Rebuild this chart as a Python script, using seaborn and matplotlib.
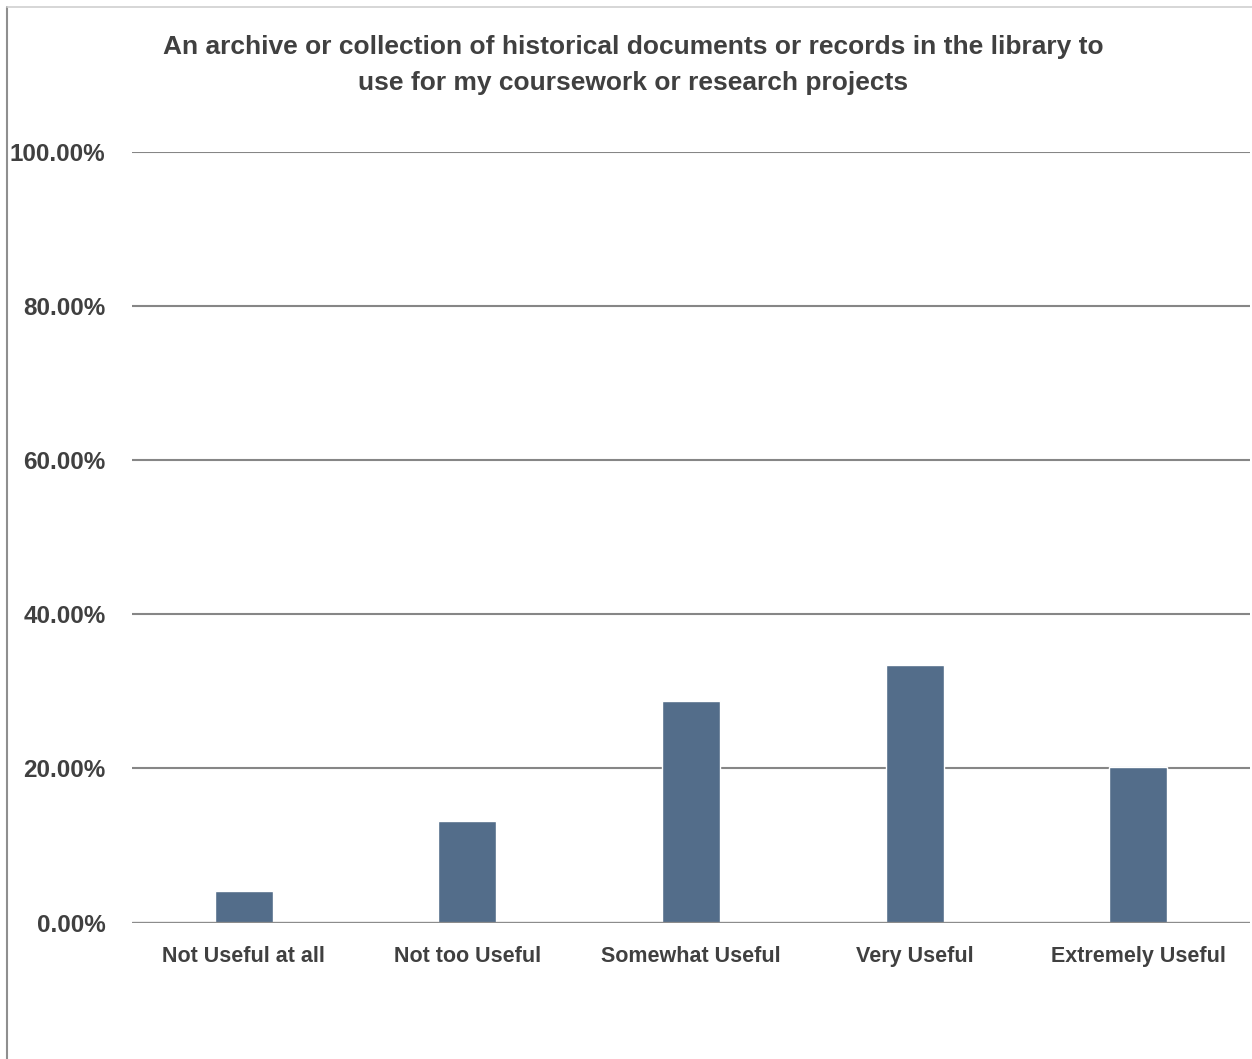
import matplotlib
matplotlib.use("Agg")
import matplotlib.pyplot as plt
from matplotlib.lines import Line2D
from matplotlib.ticker import FuncFormatter
import pandas as pd
import seaborn as sns

# survey answers, share of respondents in %
categories = ['Not Useful at all', 'Not too Useful', 'Somewhat Useful', 'Very Useful', 'Extremely Useful']
shares = [4.1, 13.2, 28.7, 33.4, 20.2]
y_ticks = [0, 20, 40, 60, 80, 100]
title = ('An archive or collection of historical documents or records in the library to\n'
         'use for my coursework or research projects')

df = pd.DataFrame({'category': categories, 'share': shares})

sns.set_style('white')
plt.rcParams['font.family'] = ['Liberation Sans Narrow', 'Liberation Sans', 'DejaVu Sans']
text_color = '#404040'
grid_color = '#868686'

fig = plt.figure(figsize=(12.52, 10.59), dpi=100)
ax = fig.add_axes([132 / 1252, 136.5 / 1059, 1118 / 1252, 770.5 / 1059])

sns.barplot(data=df, x='category', y='share', color='#536d8a', width=0.26,
            saturation=1, ax=ax, zorder=3)

ax.set_ylim(0, 100)
ax.set_yticks(y_ticks)
ax.yaxis.set_major_formatter(FuncFormatter(lambda v, p: f'{v:.2f}%'))
for t in y_ticks[1:]:
    ax.axhline(t, color=grid_color, lw=1.5, zorder=1)
ax.axhline(0, color='#8c8c8c', lw=2.4, zorder=4)

for s in ax.spines.values():
    s.set_visible(False)
ax.tick_params(axis='y', length=0, pad=19, labelsize=17.5, labelcolor=text_color)
ax.tick_params(axis='x', length=0, pad=17, labelsize=15.5, labelcolor=text_color)
for lbl in ax.get_yticklabels() + ax.get_xticklabels():
    lbl.set_fontweight('bold')
ax.set_xlabel('')
ax.set_ylabel('')

fig.text(633 / 1252, 1 - 65 / 1059, title, ha='center', va='center', fontsize=19,
         fontweight='bold', color=text_color, linespacing=1.62)

# chart frame (left and top edges visible)
fig.add_artist(Line2D([7 / 1252, 7 / 1252], [0, 1 - 7 / 1059], transform=fig.transFigure,
                      color='#8f8f8f', lw=1.5))
fig.add_artist(Line2D([7 / 1252, 1], [1 - 7 / 1059, 1 - 7 / 1059], transform=fig.transFigure,
                      color='#d0d0d0', lw=1.2))

fig.savefig('out.png', dpi=100)
